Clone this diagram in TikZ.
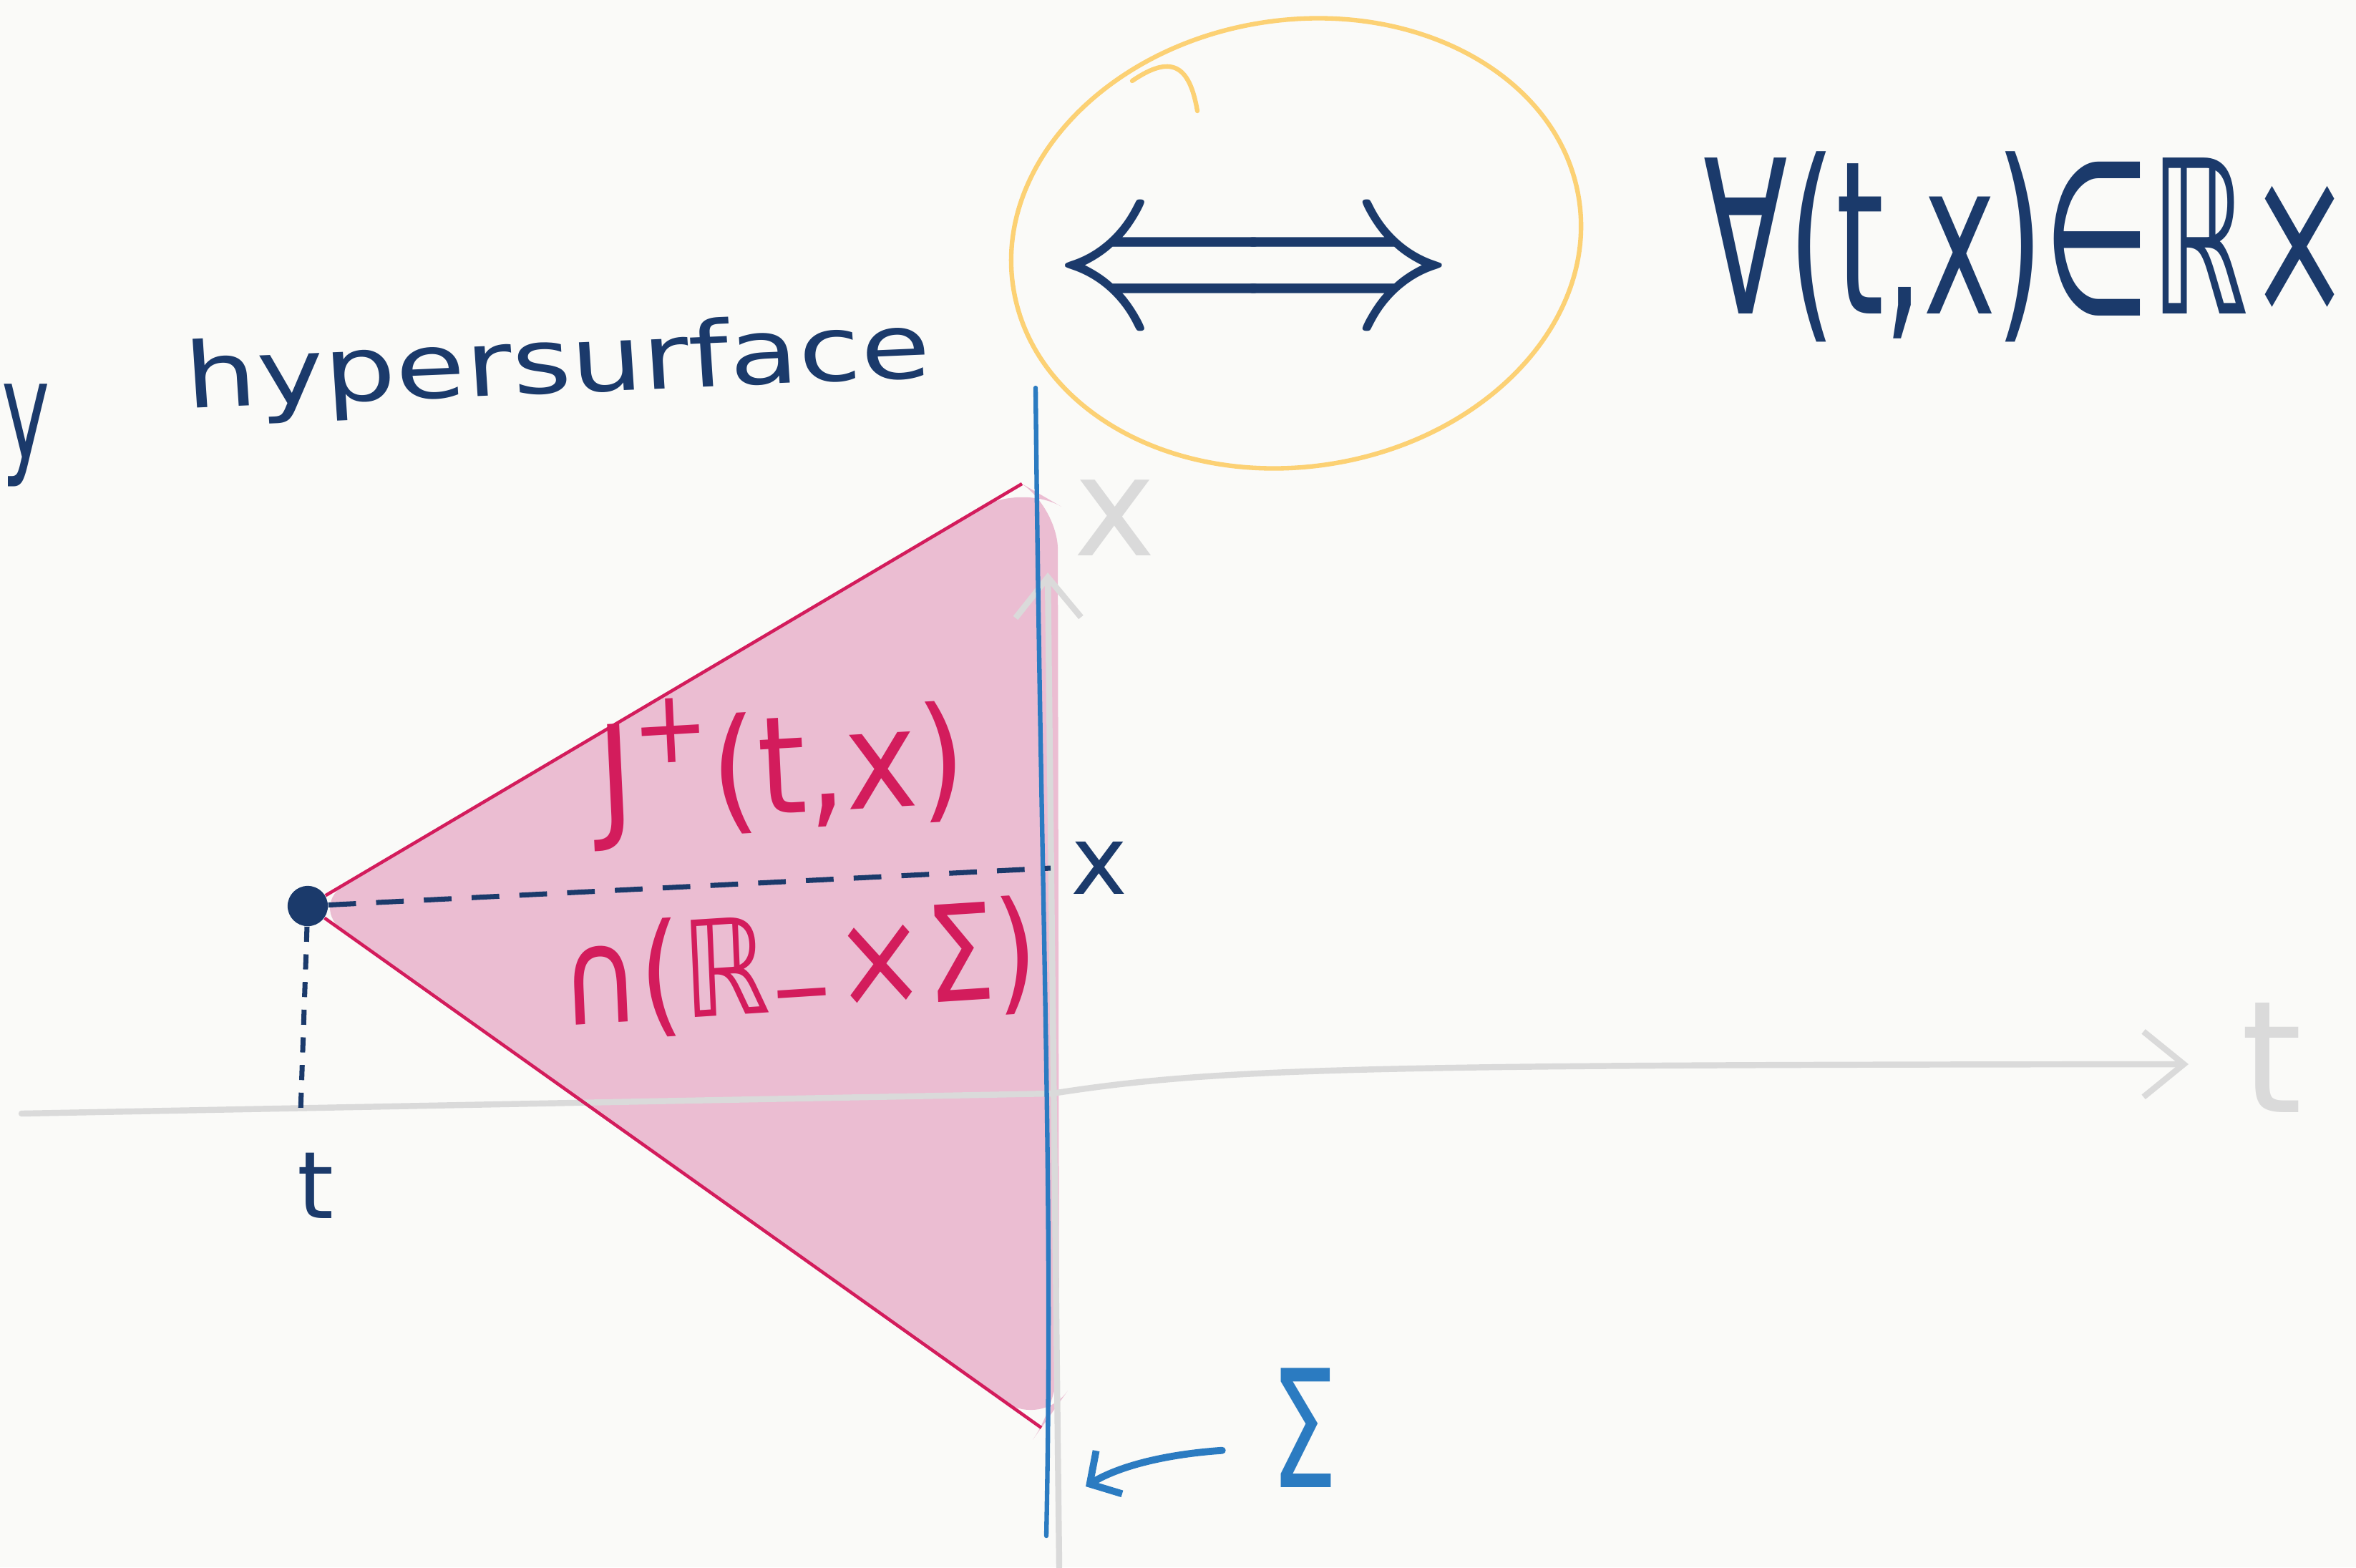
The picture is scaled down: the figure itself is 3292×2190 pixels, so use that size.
\documentclass[tikz,border=0pt]{standalone}
\usepackage{fontspec}
\setmainfont{DejaVu Sans}
\usetikzlibrary{positioning, arrows.meta}
\definecolor{ink}{HTML}{1B3A6B}
\definecolor{conered}{HTML}{D31C5C}
\definecolor{conepink}{HTML}{EBBDD2}
\definecolor{sigmablue}{HTML}{2B7BC1}
\definecolor{hiliteyellow}{HTML}{FCD174}
\definecolor{axisgrey}{HTML}{DADADA}
\definecolor{paper}{HTML}{FAFAF8}
\tikzset{
    hand/.style={inner sep=0pt, text=ink},
    cone/.style={fill=conepink, draw=none, rounded corners=18pt},
    ray/.style={draw=conered, line width=1.3pt},
    surface/.style={draw=sigmablue, line width=1.8pt, line cap=round},
    pointer/.style={draw=sigmablue, line width=2.8pt, line cap=round, -{Straight Barb[length=9pt, width=20pt]}},
    axis/.style={draw=axisgrey, line width=2.4pt, line cap=round, -{Straight Barb[length=16pt, width=26pt]}},
    hilite/.style={draw=hiliteyellow, line width=1.8pt, line cap=round},
    guide/.style={draw=ink, line width=2pt, dash pattern=on 11pt off 8pt},
    event/.style={circle, fill=ink, inner sep=0pt, minimum size=16pt}
}

\begin{document}
\begin{tikzpicture}[x=0.01cm, y=-0.01cm]
    \fill[paper] (0,0) rectangle (3292,2190);
    \useasboundingbox (0,0) rectangle (3292,2190);

    % heading: hypersurface <=> for all (t,x)
    \node[hand, font=\fontsize{36}{44}\selectfont, anchor=base west, xscale=0.9, yscale=1.5] (any) at (2,640) {y};
    \node[hand, font=\fontsize{36}{44}\selectfont, anchor=base, xscale=1.25, rotate=3] (hyper) at (782,549) {hypersurface};
    \node[hand, font=\fontsize{10}{12}\selectfont, xscale=8.7, yscale=9.5] (iff) at (1752,393) {$\Longleftrightarrow$};
    \draw[hilite, rotate around={9:(1811,340)}] (1811,340) ellipse [x radius=400, y radius=312];
    \draw[hilite] (1673,155) .. controls (1662,90) and (1636,76) .. (1582,113);
    \node[hand, font=\fontsize{85}{100}\selectfont, xscale=0.575, anchor=west] (forall) at (2380,345) {∀(t,x)∈ℝ×};

    % causal cone of the event
    \node[event] (pt) at (430,1266) {};
    \coordinate (top) at (1428,676);
    \coordinate (bot) at (1455,1995);
    \fill[cone] (pt.center) -- (top) -- (1478,705) -- (1480,1960) -- (bot) -- cycle;

    \draw[axis] (30,1556) -- (1470,1528) .. controls (1700,1492) and (1900,1488) .. (3058,1487);
    \draw[axis] (1480,2190) -- (1464,800);
    \node[hand, text=axisgrey, font=\fontsize{62}{72}\selectfont] (taxis) at (3174,1478) {t};
    \node[hand, text=axisgrey, font=\fontsize{55}{64}\selectfont] (xaxis) at (1558,724) {x};

    \draw[ray] (pt) -- (top);
    \draw[ray] (pt) -- (bot);

    \coordinate (stop) at (1447,542);
    \coordinate (sbot) at (1462,2146);
    \draw[surface] (stop) .. controls (1455,1300) and (1472,1650) .. (sbot);

    \node[hand, text=conered, font=\fontsize{54}{64}\selectfont, xscale=0.9, rotate=3] (future) at (1092,1071) {J\raisebox{0.42em}{\scalebox{0.75}{+}}(t,x)};
    \node[hand, text=conered, font=\fontsize{53}{62}\selectfont, xscale=0.82, rotate=3] (cap) at (1116,1354) {∩(ℝ\textsubscript{−}×Σ)};

    \coordinate (xmark) at (1468,1213);
    \coordinate (tmark) at (420,1554);
    \draw[guide] (pt) -- (xmark);
    \draw[guide, dash pattern=on 6pt off 5pt] (pt) -- (tmark);
    \node[hand, font=\fontsize{38}{46}\selectfont, right=8pt of xmark] (xlabel) {x};
    \node[hand, font=\fontsize{37}{44}\selectfont, below=16pt of tmark, xshift=6pt] (tlabel) {t};

    \node[hand, text=sigmablue, font=\fontsize{65}{76}\selectfont, xscale=0.65] (sig) at (1822,1995) {Σ};
    \coordinate (sfoot) at (1517,2077);
    \draw[pointer] ([xshift=-19pt, yshift=-9pt]sig.west) .. controls (1630,2032) and (1565,2048) .. (sfoot);
\end{tikzpicture}
\end{document}
